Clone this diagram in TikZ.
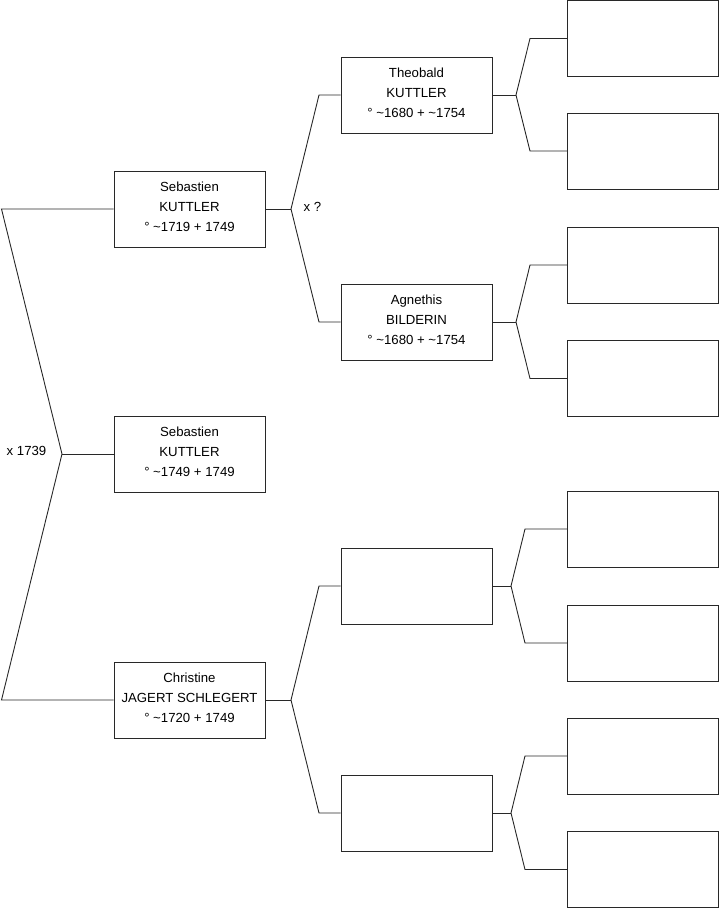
\documentclass[tikz,border=0pt]{standalone}
\usepackage{fontspec}
\setmainfont{Liberation Sans}
\usepackage{tikz}
\definecolor{lgray}{RGB}{40,40,40}
\tikzset{
  pbox/.style={draw=lgray,line width=0.9pt,minimum width=151pt,minimum height=76pt,inner sep=0pt,align=center,text depth=5.5pt,font=\fontsize{13.2}{20}\selectfont},
  lnk/.style={draw=lgray,line width=0.9pt},
  mlab/.style={font=\fontsize{13.2}{15}\selectfont,inner sep=0pt},
}
\newcommand{\tld}{\textasciitilde}

\begin{document}
\begin{tikzpicture}[x=1pt,y=-1pt]
\useasboundingbox (0,0) rectangle (719,908);
% persons
\node[pbox] (p1) at (189.5,454) {Sebastien\\KUTTLER\\° \tld1749 + 1749};
\node[pbox] (p2) at (189.5,209) {Sebastien\\KUTTLER\\° \tld1719 + 1749};
\node[pbox] (p3) at (189.5,700) {Christine\\JAGERT SCHLEGERT\\° \tld1720 + 1749};
\node[pbox] (p4) at (416.5,95) {Theobald\\KUTTLER\\° \tld1680 + \tld1754};
\node[pbox] (p5) at (416.5,322) {Agnethis\\BILDERIN\\° \tld1680 + \tld1754};
\node[pbox] (p6) at (416.5,586) {};
\node[pbox] (p7) at (416.5,813) {};
\node[pbox] (p8) at (643,38.5) {};
\node[pbox] (p9) at (643,151) {};
\node[pbox] (p10) at (643,265) {};
\node[pbox] (p11) at (643,378.5) {};
\node[pbox] (p12) at (643,529) {};
\node[pbox] (p13) at (643,643) {};
\node[pbox] (p14) at (643,756) {};
\node[pbox] (p15) at (643,869.5) {};
% marriages
\node[mlab] (m1) at (26.5,451) {x 1739};
\node[mlab] (m2) at (312.5,207) {x ?};
% forks
\coordinate (f1) at (62,454);
\coordinate (f2) at (291,209);
\coordinate (f3) at (291,700);
\coordinate (f4) at (516,95);
\coordinate (f5) at (516,322);
\coordinate (f6) at (511,586);
\coordinate (f7) at (511,813);
\coordinate (k2) at (1.5,209);
\coordinate (k3) at (1.5,700);
\coordinate (k4) at (319,95);
\coordinate (k5) at (319,322);
\coordinate (k6) at (319,586);
\coordinate (k7) at (319,813);
\coordinate (k8) at (530,38.5);
\coordinate (k9) at (530,151);
\coordinate (k10) at (530,265);
\coordinate (k11) at (530,378.5);
\coordinate (k12) at (525,529);
\coordinate (k13) at (525,643);
\coordinate (k14) at (525,756);
\coordinate (k15) at (525,869.5);
\draw[lnk] (p1.west) -- (f1);
\draw[lnk] (f1) -- (k2) -- (p2.west);
\draw[lnk] (f1) -- (k3) -- (p3.west);
\draw[lnk] (p2.east) -- (f2);
\draw[lnk] (f2) -- (k4) -- (p4.west);
\draw[lnk] (f2) -- (k5) -- (p5.west);
\draw[lnk] (p3.east) -- (f3);
\draw[lnk] (f3) -- (k6) -- (p6.west);
\draw[lnk] (f3) -- (k7) -- (p7.west);
\draw[lnk] (p4.east) -- (f4);
\draw[lnk] (f4) -- (k8) -- (p8.west);
\draw[lnk] (f4) -- (k9) -- (p9.west);
\draw[lnk] (p5.east) -- (f5);
\draw[lnk] (f5) -- (k10) -- (p10.west);
\draw[lnk] (f5) -- (k11) -- (p11.west);
\draw[lnk] (p6.east) -- (f6);
\draw[lnk] (f6) -- (k12) -- (p12.west);
\draw[lnk] (f6) -- (k13) -- (p13.west);
\draw[lnk] (p7.east) -- (f7);
\draw[lnk] (f7) -- (k14) -- (p14.west);
\draw[lnk] (f7) -- (k15) -- (p15.west);
\end{tikzpicture}
\end{document}
